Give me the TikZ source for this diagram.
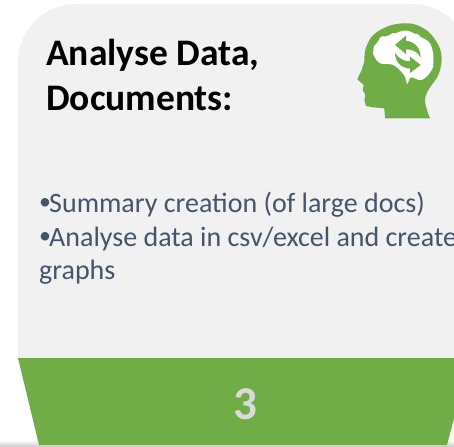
\documentclass[tikz,border=0pt]{standalone}
\usepackage{fontspec}
\setmainfont{Carlito}
\definecolor{cardgrey}{HTML}{F1F1F1}
\definecolor{leaf}{HTML}{70AD47}
\definecolor{slate}{HTML}{44546A}
\definecolor{numgrey}{HTML}{D9D9D9}
\newcommand{\smallbullet}{\makebox[10pt][l]{\raisebox{3pt}{\fontsize{24}{24}\selectfont•}}}
\tikzset{
  heading/.style={anchor=base west,inner sep=0pt,font=\fontsize{37.5}{37.5}\selectfont\bfseries,text=black},
  bodytext/.style={anchor=base west,inner sep=0pt,font=\fontsize{28}{28}\selectfont,text=slate},
  numeral/.style={anchor=center,inner sep=0pt,font=\fontsize{47}{47}\selectfont\bfseries,text=numgrey},
  icon/.style={x=0.3333pt,y=-0.3333pt,shift={(330pt,0pt)}}
}
\begin{document}
\begin{tikzpicture}[x=1pt,y=-1pt]
\useasboundingbox (0,0) rectangle (454,446);
\fill[white] (0,0) rectangle (454,446);
\clip (0,0) rectangle (454,446);
% shadow at foot
\shade[top color=white,bottom color=black!18] (0,440) rectangle (454,446);
% card
\fill[cardgrey] (18,358) -- (18,62) .. controls (18,30) and (44,4) .. (76,4) -- (412,4) .. controls (444,4) and (470,30) .. (470,62) -- (470,358) -- cycle;
% base band
\fill[leaf] (18,358) -- (470,358) -- (447,445) -- (39,445) -- cycle;
% head icon
\begin{scope}[icon]
\fill[leaf] (300,355) -- (165,355) -- (163,325) -- (130,322) -- (108,318) -- (103,300) -- (106,285) -- (98,270) -- (101,255) -- (82,238) -- (95,210) -- (103,185)
  -- plot[smooth,tension=0.6] coordinates {(103,185)(106,150)(125,110)(160,85)(200,72)(250,72)(295,95)(325,135)(335,175)(325,225)(298,265)(285,295)(288,320)(300,355)} -- cycle;
\fill[white] plot[smooth cycle,tension=0.6] coordinates {(130,150)(150,118)(190,102)(230,92)(270,110)(300,130)(310,170)(305,210)(275,240)(243,232)(232,252)(222,225)(190,195)(150,190)(133,170)};
\foreach \bx/\by/\br in {145/145/15,160/122/14,190/113/14,225/105/13,258/115/14,285/135/14,298/165/12,297/198/13,272/225/14,250/222/10,160/178/13,195/185/9}
  \fill[white] (\bx,\by) circle[radius=\br];
\fill[leaf] (195,135) -- (228,107) -- (228,122) .. controls (255,125) and (272,145) .. (272,172) .. controls (262,155) and (248,148) .. (228,148) -- (228,162) -- cycle;
\fill[leaf] (272,195) -- (240,170) -- (240,184) .. controls (220,184) and (204,174) .. (195,158) .. controls (195,185) and (212,204) .. (240,206) -- (240,219) -- cycle;
\end{scope}
% text
\node[heading] (title1) at (46,66) {Analyse Data,};
\node[heading] (title2) at (46,111) {Documents:};
\node[bodytext] (line1) at (39,212) {\smallbullet Summary creation (of large docs)};
\node[bodytext] (line2) at (39,246) {\smallbullet Analyse data in csv/excel and create};
\node[bodytext] (line3) at (39,279) {graphs};
\node[numeral] (num) at (245,404) {3};
\end{tikzpicture}
\end{document}
